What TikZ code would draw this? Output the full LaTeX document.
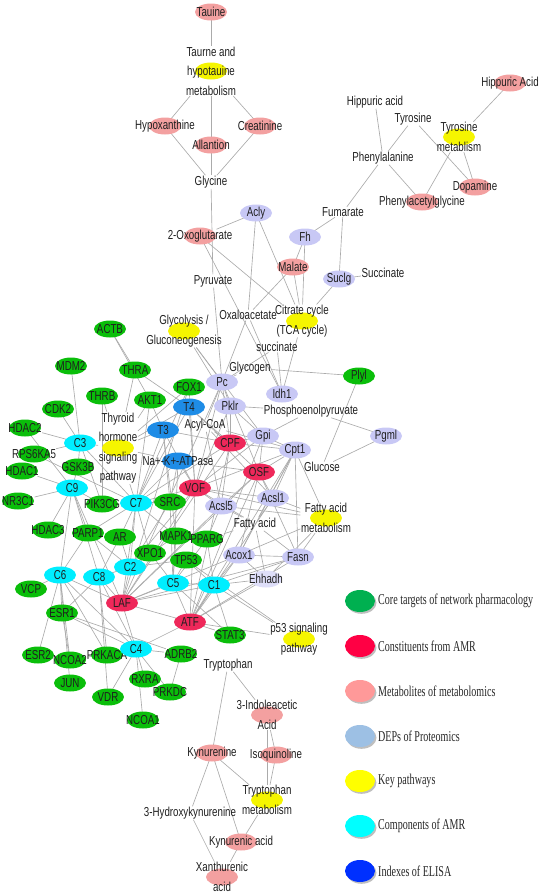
\documentclass[tikz,border=0pt]{standalone}
\usepackage{fontspec}
\setmainfont[FakeStretch=0.75]{Liberation Sans}
\newfontfamily\legfont[FakeStretch=0.67]{Liberation Serif}
\usetikzlibrary{shapes.geometric,backgrounds}
\definecolor{cg}{RGB}{10,190,10}
\definecolor{cr}{RGB}{238,40,90}
\definecolor{cp}{RGB}{243,160,160}
\definecolor{cl}{RGB}{200,200,245}
\definecolor{cc}{RGB}{0,238,255}
\definecolor{cb}{RGB}{30,140,230}
\definecolor{cy}{RGB}{245,245,0}
\definecolor{lgG}{RGB}{0,176,80}
\definecolor{lgR}{RGB}{255,0,68}
\definecolor{lgP}{RGB}{255,153,153}
\definecolor{lgL}{RGB}{157,192,228}
\definecolor{lgY}{RGB}{255,255,0}
\definecolor{lgC}{RGB}{0,255,255}
\definecolor{lgB}{RGB}{0,48,255}
\tikzset{
  ell/.style={ellipse,minimum width=32pt,minimum height=17pt,inner sep=0pt,draw=none},
  txt/.style={inner sep=0.5pt,align=center,font=\fontsize{13}{19.5}\selectfont,text=black!88},
  edge/.style={draw=black!33,line width=0.65pt},
  legell/.style={ellipse,minimum width=30pt,minimum height=22pt,inner sep=0pt,draw=none},
  legtxt/.style={inner sep=0pt,anchor=west,font=\legfont\fontsize{15}{17}\selectfont,text=black!85},
}
\newcommand\nd[5]{\node[ell,fill=#1] (#2-e) at (#3,#4) {}; \node[txt] (#2) at (#3,#4) {#5};}
\newcommand\tx[4]{\node[txt] (#1) at (#2,#3) {#4};}
\newcommand\legitem[4]{\node[legell,fill=black!25] (#1-s) at (361.5,#2+1.8) {}; \node[legell,fill=#3] (#1) at (360,#2) {}; \node[legtxt] (#1-t) at (378,#2) {#4};}
\begin{document}
\begin{tikzpicture}[x=1pt,y=-1pt]
\useasboundingbox (0,0) rectangle (540,895);
% ---------- metabolites (pink)
\nd{cp}{tau}{211}{12}{Tauine}
\nd{cp}{hyp}{165}{126}{Hypoxanthine}
\nd{cp}{cre}{260}{126}{Creatinine}
\nd{cp}{all}{211}{145}{Allantion}
\nd{cp}{hipA}{510}{83}{Hippuric Acid}
\nd{cp}{dop}{475}{187}{Dopamine}
\nd{cp}{pag}{422}{202}{Phenylacetylglycine}
\nd{cp}{oxo}{200}{236}{2-Oxoglutarate}
\nd{cp}{mal}{293}{267}{Malate}
\nd{cp}{iaa}{267}{715}{3-Indoleacetic\\Acid}
\nd{cp}{kyn}{212}{753}{Kynurenine}
\nd{cp}{isoq}{276}{755}{Isoquinoline}
\nd{cp}{kya}{241}{842}{Kynurenic acid}
\nd{cp}{xan}{222}{877}{Xanthurenic\\acid}
% ---------- pathways (yellow)
\nd{cy}{taur}{211}{71}{Taurne and\\hypotauine\\metabolism}
\nd{cy}{tyrm}{459}{137}{Tyrosine\\metablism}
\nd{cy}{tca}{302}{321}{Citrate cycle\\(TCA cycle)}
\nd{cy}{glyc}{184}{331}{Glycolysis /\\Gluconeogenesis}
\nd{cy}{thy}{118}{448}{Thyroid\\hormone\\signaling\\pathway}
\nd{cy}{fam}{326}{518}{Fatty acid\\metabolism}
\nd{cy}{pft}{299}{639}{p53 signaling\\pathway}
\nd{cy}{trpm}{267}{800}{Tryptophan\\metabolism}
% ---------- plain text nodes
\tx{gly}{211}{182}{Glycine}
\tx{hipa}{375}{102}{Hippuric acid}
\tx{tyr}{413}{119}{Tyrosine}
\tx{phe}{383}{158}{Phenylalanine}
\tx{fum}{343}{212}{Fumarate}
\tx{succ}{383}{273}{Succinate}
\tx{pyr}{213}{281}{Pyruvate}
\tx{oxa}{248}{315}{Oxaloacetate}
\tx{sucb}{277}{347}{succinate}
\tx{glycog}{250}{368}{Glycogen}
\tx{pep}{311}{411}{Phosphoenolpyruvate}
\tx{acoa}{205}{425}{Acyl-CoA}
\tx{gluc}{322}{467}{Glucose}
\tx{fa}{255}{524}{Fatty acid}
\tx{trp}{228}{665}{Tryptophan}
\tx{hk}{190}{813}{3-Hydroxykynurenine}
% ---------- proteomics (lavender)
\nd{cl}{acly}{256}{213}{Acly}
\nd{cl}{fh}{305}{237}{Fh}
\nd{cl}{suclg}{339}{279}{Suclg}
\nd{cl}{pc}{222}{382}{Pc}
\nd{cl}{idh}{282}{394}{Idh1}
\nd{cl}{pklr}{230}{406}{Pklr}
\nd{cl}{gpi}{263}{436}{Gpi}
\nd{cl}{cpt}{295}{450}{Cpt1}
\nd{cl}{pgml}{386}{436}{Pgml}
\nd{cl}{acsla}{273}{498}{Acsl1}
\nd{cl}{acslb}{221}{506}{Acsl5}
\nd{cl}{acox}{239}{555}{Acox1}
\nd{cl}{fasn}{298}{557}{Fasn}
\nd{cl!60}{ehh}{266}{579}{Ehhadh}
% ---------- core targets (green)
\nd{cg}{actb}{110}{329}{ACTB}
\nd{cg}{mdm}{71}{366}{MDM2}
\nd{cg}{thra}{135}{370}{THRA}
\nd{cg}{fox}{189}{387}{FOX1}
\nd{cg}{cdk}{58}{409}{CDK2}
\nd{cg}{thrb}{102}{396}{THRB}
\nd{cg}{akt}{150}{400}{AKT1}
\nd{cg}{hdacb}{25}{428}{HDAC2}
\nd{cg}{rps}{34}{454}{RPS6KA5}
\nd{cg}{gsk}{78}{467}{GSK3B}
\nd{cg}{hdaca}{22}{471}{HDAC1}
\nd{cg}{nrc}{18}{501}{NR3C1}
\nd{cg}{pik}{102}{504}{PIK3CG}
\nd{cg}{src}{170}{502}{SRC}
\nd{cg}{hdacc}{48}{530}{HDAC3}
\nd{cg}{parp}{88}{533}{PARP1}
\nd{cg}{ar}{120}{537}{AR}
\nd{cg}{mapk}{176}{536}{MAPK1}
\nd{cg}{pparg}{207}{539}{PPARG}
\nd{cg}{xpo}{150}{553}{XPO1}
\nd{cg}{tpf}{186}{560}{TP53}
\nd{cg}{vcp}{31}{589}{VCP}
\nd{cg}{esra}{62}{613}{ESR1}
\nd{cg}{stat}{230}{635}{STAT3}
\nd{cg}{esrb}{38}{655}{ESR2}
\nd{cg}{ncob}{70}{660}{NCOA2}
\nd{cg}{prka}{107}{655}{PRKACA}
\nd{cg}{adrb}{181}{654}{ADRB2}
\nd{cg}{rxra}{145}{679}{RXRA}
\nd{cg}{prkd}{170}{692}{PRKDC}
\nd{cg}{vdr}{108}{697}{VDR}
\nd{cg}{jun}{70}{683}{JUN}
\nd{cg}{ncoa}{143}{720}{NCOA1}
\nd{cg}{plyl}{359}{376}{Plyl}
% ---------- components (cyan)
\nd{cc}{cC}{80}{443}{C3}
\nd{cc}{cI}{72}{488}{C9}
\nd{cc}{cG}{136}{503}{C7}
\nd{cc}{cB}{130}{567}{C2}
\nd{cc}{cF}{60}{575}{C6}
\nd{cc}{cH}{99}{577}{C8}
\nd{cc}{cE}{173}{583}{C5}
\nd{cc}{cA}{214}{585}{C1}
\nd{cc}{cD}{136}{649}{C4}
% ---------- constituents (crimson)
\nd{cr}{cpf}{230}{443}{CPF}
\nd{cr}{osf}{259}{472}{OSF}
\nd{cr}{vof}{195}{488}{VOF}
\nd{cr}{laf}{122}{603}{LAF}
\nd{cr}{atf}{190}{622}{ATF}
% ---------- ELISA (blue)
\nd{cb}{tf}{189}{407}{T4}
\nd{cb}{tt}{163}{430}{T3}
\nd{cb}{nak}{178}{461}{Na+-K+-ATPase}
% ---------- edges
\begin{pgfonlayer}{background}
\foreach \a/\b in {tau/taur,taur/hyp,taur/all,taur/cre,hyp/gly,all/gly,cre/gly,gly/pyr,
 hipA/tyrm,hipa/phe,tyr/phe,tyr/dop,tyrm/dop,tyrm/pag,phe/pag,phe/fum,fum/fh,fum/suclg,
 acly/oxo,acly/oxa,acly/tca,oxo/tca,oxo/idh,fh/mal,fh/tca,mal/oxa,mal/tca,suclg/tca,suclg/succ,
 pyr/pc,oxa/pc,oxa/idh,sucb/pc,sucb/idh,tca/idh,glycog/pc,glycog/plyl,pklr/pep,gpi/pep,pep/pgml,
 plyl/gluc,pgml/gluc,glyc/pc,glyc/pklr,glyc/gpi,
 actb/thra,actb/akt,mdm/cC,cdk/cC,hdacb/cC,rps/cC,cC/thy,thrb/thy,thra/thy,thra/tf,thrb/pik,
 akt/thy,akt/tt,akt/cG,fox/thy,tt/thy,tf/thy,nak/thy,thy/cG,
 tt/cG,tt/src,tt/mapk,tt/cpf,tt/vof,tf/cpf,tf/osf,tf/vof,tf/cG,nak/vof,nak/osf,nak/cG,nak/src,nak/cE,
 fox/vof,fox/cG,fox/laf,cC/gsk,cC/pik,cC/cG,
 cI/hdaca,cI/nrc,cI/gsk,cI/pik,cI/parp,cI/cH,cI/laf,cI/cF,cI/hdacc,hdacb/cI,
 cG/pik,cG/src,cG/ar,cG/mapk,cG/xpo,cG/parp,cG/laf,cG/cB,cG/vof,cG/cpf,cG/rps,
 cB/ar,cB/xpo,cB/tpf,cB/mapk,cB/src,cB/parp,cB/laf,cB/cH,cB/vof,
 cE/src,cE/mapk,cE/tpf,cE/xpo,cE/pparg,cE/laf,cE/atf,cE/cA,
 cA/pparg,cA/tpf,cA/atf,cA/stat,cA/laf,cA/ehh,cA/acox,cA/fasn,cA/pft,
 cF/vcp,cF/esra,cF/esrb,cF/ncob,cF/prka,cF/laf,cF/cD,cF/jun,cF/parp,
 cH/laf,cH/ar,cH/esra,cH/prka,cH/vdr,cH/cD,
 cD/esra,cD/prka,cD/adrb,cD/rxra,cD/prkd,cD/vdr,cD/ncoa,cD/ncob,cD/laf,cD/atf,
 esra/adrb,esra/ncob,adrb/prkd,
 laf/vof,laf/cpf,laf/osf,laf/atf,laf/acslb,laf/fasn,laf/pc,laf/acox,
 atf/vof,atf/cpf,atf/osf,atf/acsla,atf/cpt,atf/gpi,atf/stat,atf/fasn,atf/ehh,atf/acox,atf/pft,
 vof/pc,vof/pklr,vof/acslb,vof/acsla,vof/cpt,vof/fam,vof/gpi,vof/fa,
 osf/pc,osf/gpi,osf/cpt,osf/acsla,osf/acox,osf/acslb,osf/fasn,
 cpf/pklr,cpf/pc,cpf/gpi,cpf/acslb,cpf/cpt,cpf/acoa,
 acoa/pc,acoa/acsla,acoa/cpt,acoa/acslb,
 cpt/fam,cpt/acsla,cpt/fasn,cpt/acox,cpt/gpi,cpt/fa,
 acsla/fam,acsla/fa,acslb/fa,acslb/fam,
 fa/acox,fa/fasn,fa/ehh,fam/fasn,fam/acox,fam/ehh,acox/ehh,acox/fasn,
 pc/pklr,gpi/pklr,pparg/fa,pparg/acslb,stat/cE,tpf/pft,
 trp/kyn,trp/iaa,iaa/isoq,iaa/trpm,isoq/trpm,kyn/trpm,kyn/hk,kyn/kya,trpm/kya,hk/xan,kya/xan}
 \draw[edge] (\a) -- (\b);
\end{pgfonlayer}
% ---------- legend
\legitem{lgA}{601}{lgG}{Core targets of network pharmacology}
\legitem{lgB}{646}{lgR}{Constituents from AMR}
\legitem{lgC}{691}{lgP}{Metabolites of metabolomics}
\legitem{lgD}{736}{lgL}{DEPs of Proteomics}
\legitem{lgE}{781}{lgY}{Key pathways}
\legitem{lgF}{826}{lgC}{Components of AMR}
\legitem{lgH}{871}{lgB}{Indexes of ELISA}
\end{tikzpicture}
\end{document}
